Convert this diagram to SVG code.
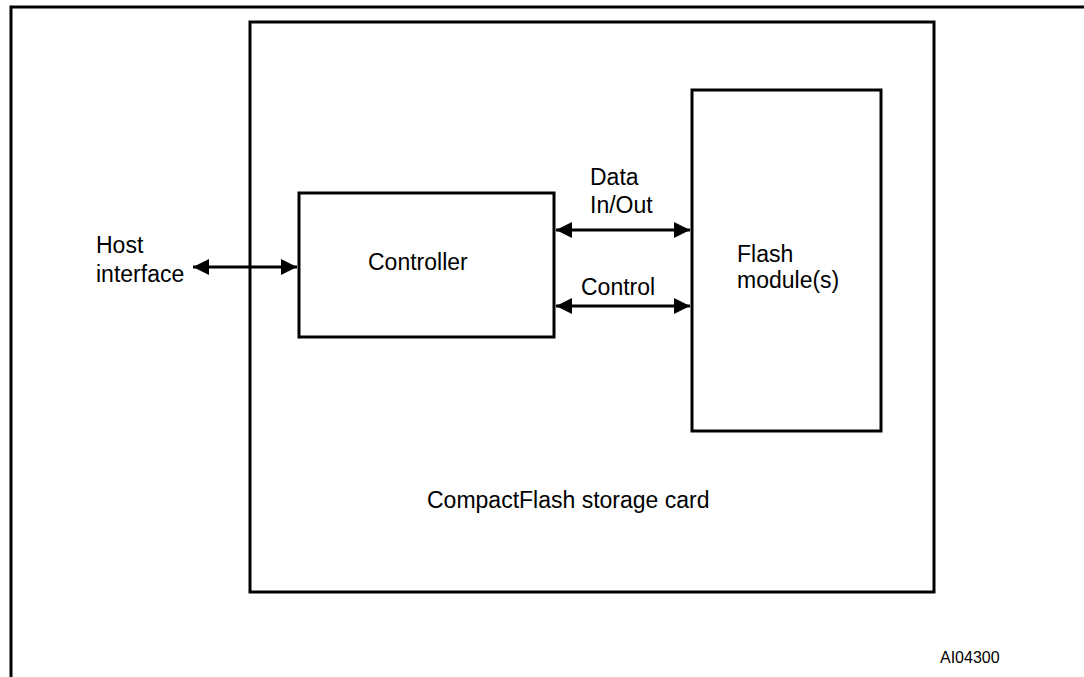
<svg xmlns="http://www.w3.org/2000/svg" width="1084" height="677" viewBox="0 0 1084 677">
<style>
.box{fill:none;stroke:#000;stroke-width:3}
.frame{fill:none;stroke:#000;stroke-width:3}
.con{fill:none;stroke:#000;stroke-width:3;marker-start:url(#ah);marker-end:url(#ah)}
.t{font-family:"Liberation Sans",Arial,sans-serif;font-size:23px;fill:#000}
.s{font-family:"Liberation Sans",Arial,sans-serif;font-size:16px;fill:#000}
</style>
<defs>
<marker id="ah" viewBox="0 0 10 10" refX="10" refY="5" markerUnits="userSpaceOnUse" markerWidth="17" markerHeight="16" orient="auto-start-reverse">
<path d="M0,0 L10,5 L0,10 Z" fill="#000"/>
</marker>
</defs>
<rect width="1084" height="677" fill="#fff"/>
<g id="frame">
<path class="frame" d="M11,677 V7 H1084"/>
</g>
<g id="card">
<rect class="box" x="250" y="22" width="684" height="570"/>
<text class="t" x="427" y="508">CompactFlash storage card</text>
</g>
<g id="controller">
<rect class="box" x="299" y="193" width="255" height="144"/>
<text class="t" x="368" y="270">Controller</text>
</g>
<g id="flash">
<rect class="box" x="692" y="90" width="189" height="341"/>
<text class="t" x="737" y="262">Flash</text>
<text class="t" x="737" y="288">module(s)</text>
</g>
<g id="host">
<text class="t" x="96" y="253">Host</text>
<text class="t" x="96" y="282">interface</text>
</g>
<g id="connectors">
<line class="con" x1="193" y1="267" x2="297" y2="267"/>
<line class="con" x1="556" y1="230" x2="690" y2="230"/>
<line class="con" x1="556" y1="306" x2="690" y2="306"/>
</g>
<g id="labels">
<text class="t" x="590" y="185">Data</text>
<text class="t" x="590" y="213">In/Out</text>
<text class="t" x="581" y="295">Control</text>
<text class="s" x="940" y="663">AI04300</text>
</g>
</svg>
